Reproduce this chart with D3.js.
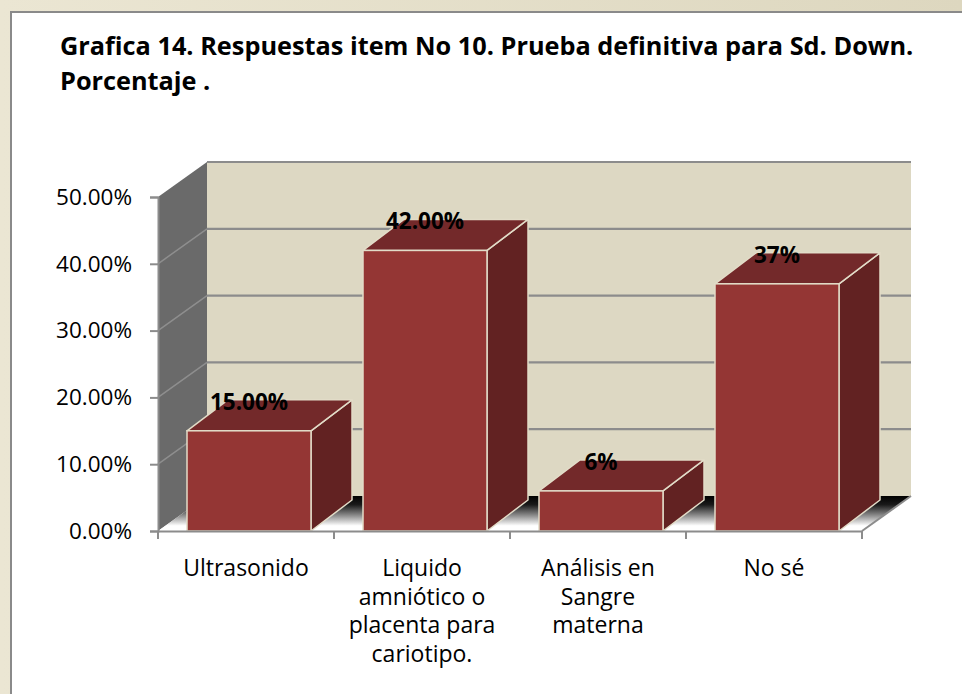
<!DOCTYPE html>
<html>
<head>
<meta charset="utf-8">
<script src="https://cdn.jsdelivr.net/npm/d3@7"></script>
<style>
  body { margin: 0; background: #fff; }
  svg { display: block; }
</style>
</head>
<body>
<script>
// data
var categories = ["Ultrasonido", "Liquido amniótico o placenta para cariotipo.", "Análisis en Sangre materna", "No sé"];
var categoryLines = [["Ultrasonido"], ["Liquido", "amniótico o", "placenta para", "cariotipo."], ["Análisis en", "Sangre", "materna"], ["No sé"]];
var values = [0.15, 0.42, 0.06, 0.37];
var valueLabels = ["15.00%", "42.00%", "6%", "37%"];
var yTicks = [0, 0.1, 0.2, 0.3, 0.4, 0.5];
var titleLines = ["Grafica 14. Respuestas item No 10. Prueba definitiva para Sd. Down.", "Porcentaje ."];

var W = 962, H = 694;
var plotL = 158, plotR = 862, plotB = 531, plotT = 197;
var depth = {dx: 49, dy: -35};      // wall depth
var barDepth = {dx: 41, dy: -31};   // bar depth

var svg = d3.select("body").append("svg")
    .attr("width", W)
    .attr("height", H);

var defs = svg.append("defs");
var frameGrad = defs.append("linearGradient").attr("id", "frame")
    .attr("x1", 0).attr("y1", 0).attr("x2", 1).attr("y2", 0);
frameGrad.append("stop").attr("offset", 0).attr("stop-color", "#ebe6d3");
frameGrad.append("stop").attr("offset", 1).attr("stop-color", "#ddd7bf");

// floor shading: dark at the back edge, white at the front
var floorGrad = defs.append("linearGradient").attr("id", "floor")
    .attr("gradientUnits", "userSpaceOnUse")
    .attr("x1", 0).attr("y1", plotB + depth.dy).attr("x2", 0).attr("y2", plotB);
floorGrad.append("stop").attr("offset", 0).attr("stop-color", "#000");
floorGrad.append("stop").attr("offset", 0.25).attr("stop-color", "#1a1a1a");
floorGrad.append("stop").attr("offset", 0.55).attr("stop-color", "#8a8a8a");
floorGrad.append("stop").attr("offset", 0.85).attr("stop-color", "#fff");
floorGrad.append("stop").attr("offset", 1).attr("stop-color", "#fff");

// outer frame
svg.append("rect").attr("width", W).attr("height", H).attr("fill", "url(#frame)");
svg.append("rect").attr("x", 11).attr("y", 12).attr("width", W).attr("height", H)
    .attr("fill", "#fff").attr("stroke", "#8a8a8a").attr("stroke-width", 2);

// title
var title = svg.append("text")
    .attr("x", 60).attr("y", 55)
    .style("font-family", "'Open Sans', sans-serif")
    .style("font-weight", "bold")
    .style("font-size", "25.3px")
    .attr("fill", "#000");
title.selectAll("tspan").data(titleLines).enter().append("tspan")
    .attr("x", 60)
    .attr("dy", function(d, i) { return i ? 35 : 0; })
    .text(function(d) { return d; });

// scales
var y = d3.scaleLinear().domain([0, 0.5]).range([plotB, plotT]);
var x = d3.scaleBand().domain(categories).range([plotL, plotR]).padding(0);
var barW = 124, barOff = 29;

function pts(a) { return a.map(function(p) { return p.join(","); }).join(" "); }

// back wall
svg.append("polygon")
    .attr("points", pts([[plotL + depth.dx, y(0.5) + depth.dy], [plotR + depth.dx, y(0.5) + depth.dy],
                         [plotR + depth.dx, y(0) + depth.dy], [plotL + depth.dx, y(0) + depth.dy]]))
    .attr("fill", "#ddd8c3");
// side wall
svg.append("polygon")
    .attr("points", pts([[plotL, y(0.5)], [plotL + depth.dx, y(0.5) + depth.dy],
                         [plotL + depth.dx, y(0) + depth.dy], [plotL, y(0)]]))
    .attr("fill", "#6a6a6a");

// gridlines
var grid = svg.append("g");
grid.selectAll(".gback").data(yTicks.slice(1)).enter().append("line")
    .attr("x1", plotL + depth.dx).attr("x2", plotR + depth.dx)
    .attr("y1", function(d) { return y(d) + depth.dy; })
    .attr("y2", function(d) { return y(d) + depth.dy; })
    .attr("stroke", "#8c8c8c").attr("stroke-width", 2.2);
grid.selectAll(".gside").data(yTicks.slice(1, -1)).enter().append("line")
    .attr("x1", plotL).attr("x2", plotL + depth.dx)
    .attr("y1", function(d) { return y(d); })
    .attr("y2", function(d) { return y(d) + depth.dy; })
    .attr("stroke", "#8e8e8e").attr("stroke-width", 1.5);

// floor
svg.append("polygon")
    .attr("points", pts([[plotL, y(0)], [plotR, y(0)], [plotR + depth.dx, y(0) + depth.dy], [plotL + depth.dx, y(0) + depth.dy]]))
    .attr("fill", "url(#floor)");
svg.append("line")
    .attr("x1", plotR).attr("y1", y(0)).attr("x2", plotR + depth.dx).attr("y2", y(0) + depth.dy)
    .attr("stroke", "#8c8c8c").attr("stroke-width", 2);

// bars
var bars = svg.selectAll(".bar").data(values).enter().append("g").attr("class", "bar");
bars.each(function(d, i) {
    var g = d3.select(this);
    var x0 = x(categories[i]) + barOff, x1 = x0 + barW, yt = y(d), yb = y(0);
    g.append("polygon")
        .attr("points", pts([[x1, yt], [x1 + barDepth.dx, yt + barDepth.dy], [x1 + barDepth.dx, yb + barDepth.dy], [x1, yb]]))
        .attr("fill", "#622222").attr("stroke", "#e2dcc8").attr("stroke-width", 1.5).attr("stroke-linejoin", "round");
    g.append("polygon")
        .attr("points", pts([[x0, yt], [x1, yt], [x1 + barDepth.dx, yt + barDepth.dy], [x0 + barDepth.dx, yt + barDepth.dy]]))
        .attr("fill", "#73292a").attr("stroke", "#e2dcc8").attr("stroke-width", 1.5).attr("stroke-linejoin", "round");
    g.append("rect")
        .attr("x", x0).attr("y", yt).attr("width", barW).attr("height", yb - yt)
        .attr("fill", "#943634").attr("stroke", "#e2dcc8").attr("stroke-width", 1.5);
});

// value labels
svg.selectAll(".vlabel").data(values).enter().append("text")
    .attr("x", function(d, i) { return x(categories[i]) + barOff + barW / 2; })
    .attr("y", function(d) { return y(d) - 21; })
    .attr("text-anchor", "middle")
    .style("font-family", "'Open Sans', sans-serif")
    .style("font-weight", "bold")
    .style("font-size", "22.5px")
    .text(function(d, i) { return valueLabels[i]; });

// y axis
var yAxis = svg.append("g")
    .attr("transform", "translate(" + plotL + ",0)")
    .call(d3.axisLeft(y).tickValues(yTicks).tickFormat(d3.format(".2%")).tickSize(8).tickPadding(18));
yAxis.select(".domain").attr("stroke", "#8c8c8c").attr("stroke-width", 2);
yAxis.selectAll(".tick line").attr("stroke", "#8c8c8c").attr("stroke-width", 2);
yAxis.selectAll(".tick text")
    .style("font-family", "'Open Sans', sans-serif")
    .style("font-size", "22.5px")
    .attr("fill", "#000");

// x axis
var xAxis = svg.append("g")
    .attr("transform", "translate(0," + y(0) + ")")
    .call(d3.axisBottom(x).tickSize(0).tickFormat(""));
xAxis.select(".domain").attr("stroke", "#8c8c8c").attr("stroke-width", 2);
xAxis.selectAll(".tick").remove();
xAxis.selectAll(".sep").data(d3.range(categories.length + 1)).enter().append("line")
    .attr("x1", function(i) { return plotL + i * x.step(); })
    .attr("x2", function(i) { return plotL + i * x.step(); })
    .attr("y1", 0).attr("y2", 8)
    .attr("stroke", "#8c8c8c").attr("stroke-width", 2);

var cat = svg.selectAll(".cat").data(categories).enter().append("text")
    .attr("text-anchor", "middle")
    .attr("y", 576)
    .style("font-family", "'Open Sans', sans-serif")
    .style("font-size", "23px")
    .attr("fill", "#000");
cat.each(function(d, i) {
    var t = d3.select(this);
    categoryLines[i].forEach(function(line, j) {
        t.append("tspan")
            .attr("x", x(d) + x.bandwidth() / 2)
            .attr("dy", j ? 28.5 : 0)
            .text(line);
    });
});
</script>
</body>
</html>
